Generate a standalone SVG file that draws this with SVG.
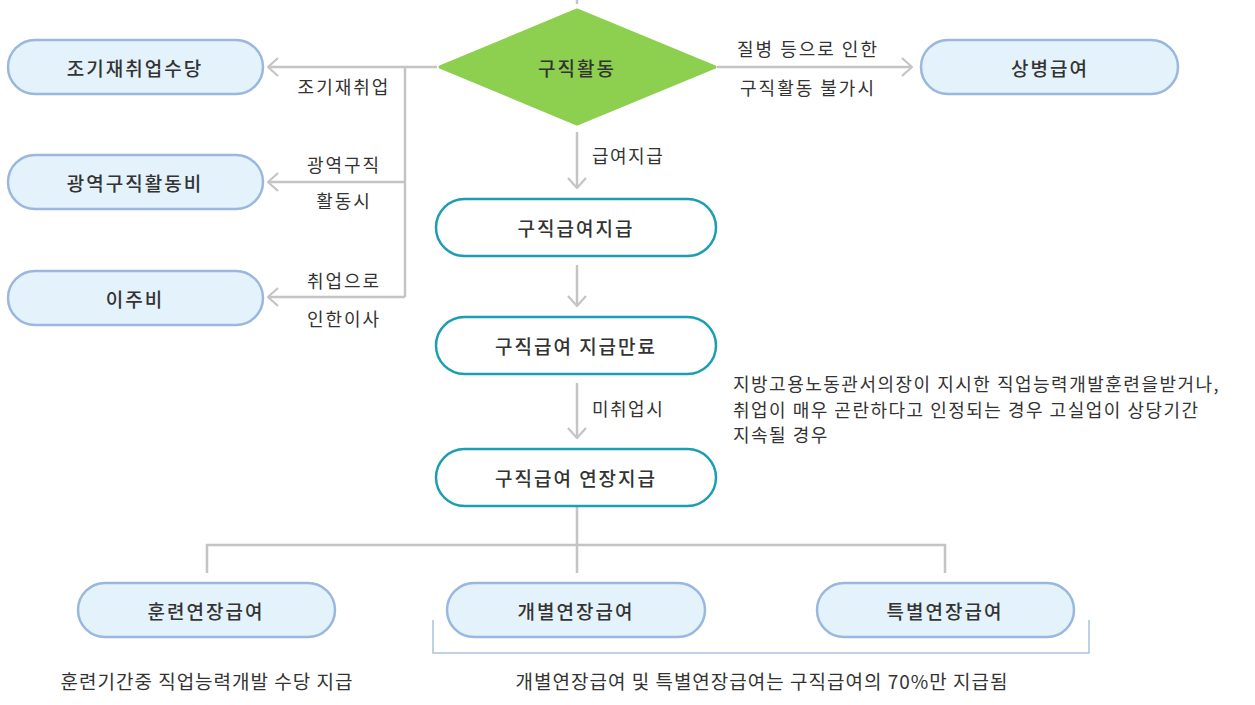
<svg xmlns="http://www.w3.org/2000/svg" width="1255" height="705" viewBox="0 0 1255 705">
<defs>
<style>
text{font-family:"Noto Sans CJK KR","Noto Sans",sans-serif;fill:#333;}
.n{font-size:19px;letter-spacing:2px;text-anchor:middle;dominant-baseline:central;font-weight:500;}
.l{font-size:18px;letter-spacing:2px;text-anchor:middle;dominant-baseline:central;}
.s{font-size:18px;letter-spacing:1.5px;dominant-baseline:central;}
.b{font-size:19px;letter-spacing:1px;text-anchor:middle;dominant-baseline:central;}
.blue{fill:#e4f2fb;stroke:#9ab8dd;stroke-width:2.5;}
.teal{fill:#fff;stroke:#1c9eb2;stroke-width:2.5;}
.c{fill:none;stroke:#c4c4c4;stroke-width:2.5;}
</style>
<marker id="a" viewBox="0 0 12 20" refX="11" refY="10" markerWidth="12" markerHeight="20" markerUnits="userSpaceOnUse" orient="auto"><path d="M1 1 L11 10 L1 19" fill="none" stroke="#c4c4c4" stroke-width="2.2"/></marker>
</defs>
<rect width="1255" height="705" fill="#fff"/>
<g id="connectors">
<path class="c" d="M577 0 V4"/>
<path class="c" d="M437 67 H268" marker-end="url(#a)"/>
<path class="c" d="M405 67 V297"/>
<path class="c" d="M405 182 H268" marker-end="url(#a)"/>
<path class="c" d="M405 297 H268" marker-end="url(#a)"/>
<path class="c" d="M717 67 H912" marker-end="url(#a)"/>
<path class="c" d="M577 132 V188" marker-end="url(#a)"/>
<path class="c" d="M577 265 V306" marker-end="url(#a)"/>
<path class="c" d="M577 383 V438" marker-end="url(#a)"/>
<path class="c" d="M577 507 V573 M207 573 V545 H945 V573"/>
<path d="M433 620 V653 H1089 V620" fill="none" stroke="#a9c4de" stroke-width="1.5"/>
<text class="l" x="344" y="86">조기재취업</text>
<text class="l" x="344" y="164">광역구직</text>
<text class="l" x="344" y="200">활동시</text>
<text class="l" x="344" y="280">취업으로</text>
<text class="l" x="344" y="318">인한이사</text>
<text class="l" x="808" y="48">질병 등으로 인한</text>
<text class="l" x="808" y="87">구직활동 불가시</text>
<text class="s" x="592" y="155">급여지급</text>
<text class="s" x="592" y="408">미취업시</text>
</g>
<g id="n-search"><path d="M577 10 L715 67 L577 124 L440 67 Z" fill="#8dcf4f" stroke="#8dcf4f" stroke-width="3" stroke-linejoin="round"/><text class="n" x="577" y="67">구직활동</text></g>
<g id="n-early"><rect class="blue" x="8" y="40" width="255" height="54" rx="27"/><text class="n" x="135" y="67">조기재취업수당</text></g>
<g id="n-wide"><rect class="blue" x="8" y="155" width="255" height="54" rx="27"/><text class="n" x="135" y="182">광역구직활동비</text></g>
<g id="n-move"><rect class="blue" x="8" y="271" width="255" height="54" rx="27"/><text class="n" x="135" y="298">이주비</text></g>
<g id="n-sick"><rect class="blue" x="921" y="40" width="257" height="54" rx="27"/><text class="n" x="1050" y="67">상병급여</text></g>
<g id="n-pay"><rect class="teal" x="436" y="199" width="280" height="57" rx="28.5"/><text class="n" x="576" y="227">구직급여지급</text></g>
<g id="n-end"><rect class="teal" x="436" y="317" width="280" height="57" rx="28.5"/><text class="n" x="576" y="345">구직급여 지급만료</text></g>
<g id="n-ext"><rect class="teal" x="436" y="449" width="280" height="57" rx="28.5"/><text class="n" x="576" y="477">구직급여 연장지급</text></g>
<g id="note"><text class="s" x="733" y="383">지방고용노동관서의장이 지시한 직업능력개발훈련을받거나,</text><text class="s" x="733" y="409">취업이 매우 곤란하다고 인정되는 경우 고실업이 상당기간</text><text class="s" x="733" y="434">지속될 경우</text></g>
<g id="n-train"><rect class="blue" x="78" y="583" width="257" height="54" rx="27"/><text class="n" x="206" y="610">훈련연장급여</text></g>
<g id="n-indiv"><rect class="blue" x="447" y="583" width="258" height="54" rx="27"/><text class="n" x="576" y="610">개별연장급여</text></g>
<g id="n-special"><rect class="blue" x="817" y="583" width="257" height="54" rx="27"/><text class="n" x="945" y="610">특별연장급여</text></g>
<text class="b" x="207" y="680">훈련기간중 직업능력개발 수당 지급</text>
<text class="b" x="762" y="680">개별연장급여 및 특별연장급여는 구직급여의 70%만 지급됨</text>
</svg>
